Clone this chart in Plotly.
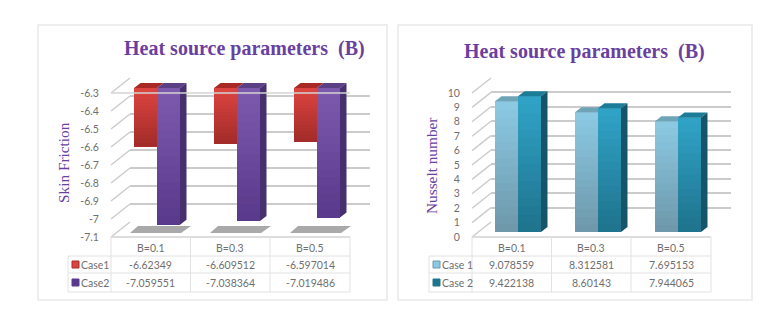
import plotly.graph_objects as go

W, H = 784, 327

CATEGORIES = ["B=0.1", "B=0.3", "B=0.5"]
TITLE = "Heat source parameters\u00a0\u00a0(B)"

SKIN_CASE1 = [-6.62349, -6.609512, -6.597014]
SKIN_CASE2 = [-7.059551, -7.038364, -7.019486]
SKIN_TICKS = [-6.3, -6.4, -6.5, -6.6, -6.7, -6.8, -6.9, -7, -7.1]
SKIN_LABELS = ["-6.3", "-6.4", "-6.5", "-6.6", "-6.7", "-6.8", "-6.9", "-7", "-7.1"]

NUSSELT_CASE1 = [9.078559, 8.312581, 7.695153]
NUSSELT_CASE2 = [9.422138, 8.60143, 7.944065]
NUSSELT_TICKS = [0, 1, 2, 3, 4, 5, 6, 7, 8, 9, 10]
NUSSELT_LABELS = ["0", "1", "2", "3", "4", "5", "6", "7", "8", "9", "10"]

PURPLE = "#6b3fa0"
GRID = "#cbcbcb"
CELL = "#e2e2e2"
TEXT = "#6f6f6f"
BORDER = "#e9e9e9"

# colours: gradient top, gradient bottom, top face, side face
RED = ("#dc4440", "#a32c2a", "#a82a26", "#7d1f1d")
VIOLET = ("#7d59ad", "#5a3a8c", "#5b4086", "#46306d")
SKY = ("#8bc9e2", "#6f98ab", "#6fa3b6", "#55808f")
TEAL = ("#30a2c6", "#1f748e", "#1d7c97", "#165467")

fig = go.Figure()
shapes = []
notes = []


def px(x):
    return x / W


def py(y):
    return 1 - y / H


def paper_line(x0, y0, x1, y1, color, width=1, layer="below"):
    shapes.append(dict(type="line", xref="paper", yref="paper", x0=px(x0), y0=py(y0), x1=px(x1), y1=py(y1),
                       line=dict(color=color, width=width), layer=layer))


def note(x, y, text, size=10.5, color=TEXT, family="Lato", xanchor="center", **kw):
    notes.append(dict(x=px(x), y=py(y), xref="paper", yref="paper", text=text, showarrow=False, xanchor=xanchor,
                      yanchor="middle", font=dict(size=size, color=color, family=family), **kw))


def blend(a, b, t):
    ca = [int(a[i:i + 2], 16) for i in (1, 3, 5)]
    cb = [int(b[i:i + 2], 16) for i in (1, 3, 5)]
    return "#" + "".join("%02x" % round(p + (q - p) * t) for p, q in zip(ca, cb))


def axis_name(n):
    return "" if n == 1 else str(n)


def panel(first, x0, ylabel, ylabel_x, ylabel_y, title_x, title_y, ticks, labels, base, rng, series, names):
    # x0 is the left edge of the front plane, every other position hangs off it
    front_l, front_r = x0, x0 + 239
    y_bottom, y_top = 237, 93
    lo, hi = rng
    per_px = (hi - lo) / (y_bottom - y_top)
    wall, front, bars = first, first + 1, first + 2

    hidden = dict(visible=False, fixedrange=True, automargin=False)
    axes = {}
    # back wall with the gridlines
    axes[f"xaxis{axis_name(wall)}"] = dict(hidden, domain=[px(x0 + 19), px(x0 + 259)], range=[0, 1],
                                           anchor=f"y{axis_name(wall)}")
    axes[f"yaxis{axis_name(wall)}"] = dict(domain=[py(y_bottom - 15), py(y_top - 15)], range=[lo, hi],
                                           anchor=f"x{axis_name(wall)}", tickvals=ticks, showgrid=True,
                                           gridcolor=GRID, gridwidth=1.6, showticklabels=False, zeroline=False,
                                           showline=False, ticks="", automargin=False)
    # front plane that carries the tick labels
    axes[f"xaxis{axis_name(front)}"] = dict(hidden, domain=[px(front_l), px(front_r)], range=[0, 1],
                                            anchor=f"y{axis_name(front)}")
    axes[f"yaxis{axis_name(front)}"] = dict(domain=[py(y_bottom), py(y_top)], range=[lo, hi],
                                            anchor=f"x{axis_name(front)}", tickvals=ticks, ticktext=labels,
                                            showgrid=False, zeroline=False, showline=False, ticks="outside",
                                            ticklen=9, tickcolor="rgba(0,0,0,0)", automargin=False,
                                            tickfont=dict(family="Lato", size=10.5, color=TEXT))
    # bars stand 5px up and 6px right of the front plane, extra headroom is for the top faces
    bar_hi = hi + 20 * per_px
    axes[f"xaxis{axis_name(bars)}"] = dict(hidden, domain=[px(front_l + 6), px(front_l + 246)], range=[-0.5, 2.5],
                                           anchor=f"y{axis_name(bars)}")
    axes[f"yaxis{axis_name(bars)}"] = dict(hidden, domain=[py(y_bottom - 5), py(y_top - 25)], range=[lo, bar_hi],
                                           anchor=f"x{axis_name(bars)}")
    fig.update_layout(**axes)

    for n in (wall, front):
        fig.add_trace(go.Scatter(x=[None], y=[None], xaxis=f"x{axis_name(n)}", yaxis=f"y{axis_name(n)}",
                                 showlegend=False, hoverinfo="skip"))

    xref, yref = f"x{axis_name(bars)}", f"y{axis_name(bars)}"
    width = 0.2875
    dx, dy = 6.5 / 80, 5 * per_px
    for k, (values, pal) in enumerate(series):
        fig.add_trace(go.Bar(x=list(range(3)), y=[v - base for v in values], base=base, width=width,
                             offset=(k - 1) * width, marker=dict(color=pal[1], line_width=0), name=names[k],
                             xaxis=xref, yaxis=yref, showlegend=False))
        for i, v in enumerate(values):
            left, right = i + (k - 1) * width, i + k * width
            top, bot = max(v, base), min(v, base)
            # each band runs to the bottom and gets painted over by the next, so no seams
            for b in range(16):
                a0 = top - (top - bot) * b / 16
                shapes.append(dict(type="rect", xref=xref, yref=yref, x0=left, x1=right, y0=bot, y1=a0,
                                   fillcolor=blend(pal[0], pal[1], b / 15), line_width=0, layer="above"))
            shapes.append(dict(type="path", xref=xref, yref=yref, fillcolor=pal[2], line_width=0, layer="above",
                               path=f"M{left},{top} L{left + dx},{top + dy} L{right + dx},{top + dy} L{right},{top} Z"))
            if k == 1:
                shapes.append(dict(type="path", xref=xref, yref=yref, fillcolor=pal[3], line_width=0, layer="above",
                                   path=f"M{right},{top} L{right + dx},{top + dy} L{right + dx},{bot + dy} L{right},{bot} Z"))

    # diagonals tying the front ticks to the back wall, and the floor edge
    for t in ticks:
        y = y_bottom - (t - lo) / per_px
        paper_line(front_l, y, front_l + 19, y - 15, GRID, 1.4)
    paper_line(front_l, y_bottom, front_r, y_bottom, GRID, 1.4)

    # data table under the plot
    cols = [x0 - 43, x0, x0 + 79.5, x0 + 159, x0 + 239]
    rows = [237, 256, 273, 292]
    for x in cols[1:]:
        paper_line(x, rows[0], x, rows[3], CELL)
    paper_line(cols[0], rows[1], cols[0], rows[3], CELL)
    paper_line(cols[1], rows[0], cols[4], rows[0], CELL)
    for y in rows[1:]:
        paper_line(cols[0], y, cols[4], y, CELL)
    for j, cat in enumerate(CATEGORIES):
        mid = (cols[j + 1] + cols[j + 2]) / 2
        note(mid, 248, cat)
        for k, (values, pal) in enumerate(series):
            note(mid, 264.5 + 18 * k, str(values[j]))
    for k, (values, pal) in enumerate(series):
        y = 264.5 + 18 * k
        shapes.append(dict(type="rect", xref="paper", yref="paper", x0=px(cols[0] + 4), x1=px(cols[0] + 11),
                           y0=py(y + 3.5), y1=py(y - 3.5), fillcolor=pal[0] if k == 0 else pal[1],
                           line=dict(color=pal[1], width=1), layer="above"))
        note(cols[0] + 11, y, names[k], xanchor="left")

    note(title_x, title_y, f"<b>{TITLE}</b>", size=20, color=PURPLE, family="Liberation Serif")
    note(ylabel_x, ylabel_y, ylabel, size=15.3, color=PURPLE, family="Liberation Serif", textangle=-90)


# cards behind both charts
for l, r in ((38, 387), (398, 752)):
    shapes.append(dict(type="rect", xref="paper", yref="paper", x0=px(l), x1=px(r), y0=py(300), y1=py(25),
                       line=dict(color=BORDER, width=1.5), fillcolor="white", layer="below"))

panel(1, 111, "Skin Friction", 63, 163, 244, 48, SKIN_TICKS, SKIN_LABELS, -6.3, (-7.1, -6.3),
      [(SKIN_CASE1, RED), (SKIN_CASE2, VIOLET)], ["Case1", "Case2"])
panel(4, 472, "Nusselt number", 431, 166, 584, 52, NUSSELT_TICKS, NUSSELT_LABELS, 0, (0, 10),
      [(NUSSELT_CASE1, SKY), (NUSSELT_CASE2, TEAL)], ["Case 1", "Case 2"])

# front -6.3 line crosses the bars, shadows lie on the floor of the left chart
paper_line(111, 93, 350, 93, "#d4d4d4", 1.6, layer="above")
for offset in (0, 80, 160):
    x = 130 + offset
    shapes.append(dict(type="path", xref="paper", yref="paper", fillcolor="#a9a9a9", line_width=0, layer="below",
                       path=f"M{px(x)},{py(233)} L{px(x + 51)},{py(233)} L{px(x + 61)},{py(226)} L{px(x + 8)},{py(226)} Z"))

fig.update_layout(width=W, height=H, autosize=False, margin=dict(l=0, r=0, t=0, b=0, autoexpand=False),
                  paper_bgcolor="white", plot_bgcolor="rgba(0,0,0,0)", showlegend=False, barmode="overlay",
                  shapes=shapes, annotations=notes)
fig.write_html("out.html", config=dict(displayModeBar=False), post_script="document.body.style.margin='0';")
